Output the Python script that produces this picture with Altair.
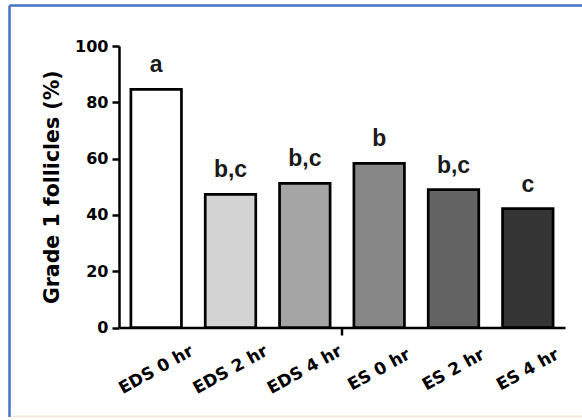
import altair as alt
import pandas as pd

groups = ["EDS 0 hr", "EDS 2 hr", "EDS 4 hr", "ES 0 hr", "ES 2 hr", "ES 4 hr"]
values = [84.6, 47.3, 51.2, 58.3, 49.0, 42.2]
letters = ["a", "b,c", "b,c", "b", "b,c", "c"]
fills = ["#ffffff", "#d3d3d3", "#a5a5a5", "#878787", "#636363", "#353535"]
y_ticks = [0, 20, 40, 60, 80, 100]

df = pd.DataFrame({"group": groups, "value": values, "letter": letters})

W, H = 446, 281.5
PAD_L, PAD_T, PAD_R, PAD_B = 119, 46, 17, 92.5
FONT = "DejaVu Sans"
LETTER_FONT = "Liberation Sans"
P_IN = 0.32

x_axis = alt.Axis(
    title=None, labelAngle=331, labelAlign="center", labelBaseline="middle",
    labelPadding=42, ticks=False, tickSize=0, labelFont=FONT, labelFontSize=17,
    labelFontWeight="bold", labelColor="black", domainColor="black",
    domainWidth=2.5,
)
x_scale = alt.Scale(domain=groups, paddingInner=P_IN, paddingOuter=P_IN / 2)

y_enc = alt.Y(
    "value:Q",
    scale=alt.Scale(domain=[0, 100], nice=False),
    axis=alt.Axis(
        values=y_ticks, title="Grade 1 follicles (%)", titleFont=FONT,
        titleFontSize=20.5, titleFontWeight="bold", titleColor="black",
        titlePadding=12, labelFont=FONT, labelFontSize=16, labelFontWeight="bold",
        labelColor="black", labelPadding=4, tickSize=7, tickWidth=2.5,
        tickColor="black", domainColor="black", domainWidth=2.5, grid=False,
    ),
)

bars = alt.Chart(df).mark_bar(stroke="black", strokeWidth=2.7).encode(
    x=alt.X("group:N", sort=groups, scale=x_scale, axis=x_axis),
    y=y_enc,
    fill=alt.Fill("group:N", scale=alt.Scale(domain=groups, range=fills), legend=None),
)

labels = alt.Chart(df).mark_text(
    dy=-17, baseline="alphabetic", align="center", font=LETTER_FONT, fontSize=23,
    fontWeight="bold", color="#1a1a1a",
).encode(
    x=alt.X("group:N", sort=groups),
    y=alt.Y("value:Q"),
    text="letter:N",
)

step = W / len(groups)
mid_tick = alt.Chart(df[df["group"] == "EDS 4 hr"]).mark_rule(
    color="black", strokeWidth=2.5, xOffset=step * P_IN / 2
).encode(
    x=alt.X("group:N", sort=groups, bandPosition=1),
    y=alt.value(H),
    y2=alt.value(H + 8),
)

frame_df = pd.DataFrame({"k": [0]})
frame_top = alt.Chart(frame_df).mark_rule(color="#4472C4", strokeWidth=2.5).encode(
    x=alt.value(9.5 - PAD_L), x2=alt.value(582 - PAD_L), y=alt.value(5.5 - PAD_T)
)
frame_left = alt.Chart(frame_df).mark_rule(color="#4472C4", strokeWidth=2.5).encode(
    x=alt.value(9.5 - PAD_L), y=alt.value(5.5 - PAD_T), y2=alt.value(417 - PAD_T)
)
frame_bottom = alt.Chart(frame_df).mark_rule(color="#f3ecdc", strokeWidth=2).encode(
    x=alt.value(11 - PAD_L), x2=alt.value(582 - PAD_L), y=alt.value(416.5 - PAD_T)
)

chart = alt.layer(bars, labels, mid_tick, frame_top, frame_left, frame_bottom).properties(
    width=W, height=H,
    autosize=alt.AutoSizeParams(type="none"),
    padding={"left": PAD_L, "top": PAD_T, "right": PAD_R, "bottom": PAD_B},
    background="white",
).configure_view(stroke=None)

chart.save("out.html", embed_options={"renderer": "svg", "actions": False})
